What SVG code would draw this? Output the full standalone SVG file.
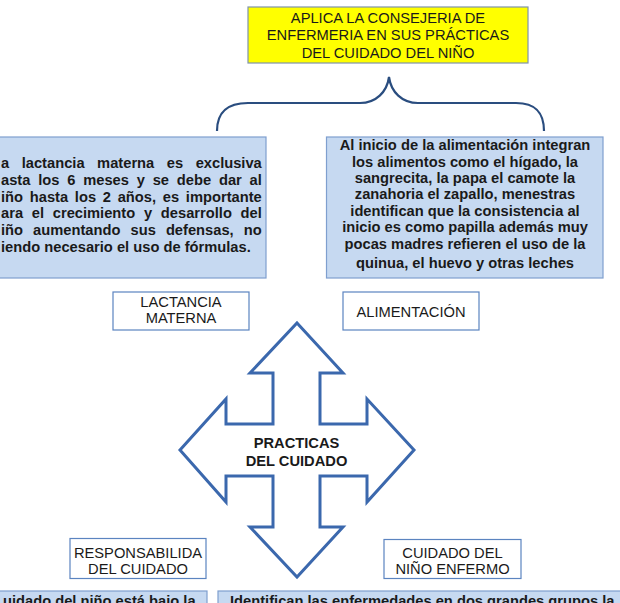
<svg xmlns="http://www.w3.org/2000/svg" width="620" height="603" viewBox="0 0 620 603">
<style>
text{font-family:"Liberation Sans",Arial,sans-serif;font-size:14.7px;fill:#1a1a1a}
.b{font-weight:bold}
.c{text-anchor:middle}
.info{fill:#c6d9f1;stroke:#7f9fcf;stroke-width:1.2}
.lab{fill:#ffffff;stroke:#5b84c0;stroke-width:1.2}
.title{fill:#ffff00;stroke:#7f93aa;stroke-width:1.2}
.brace{fill:none;stroke:#2a4d7f;stroke-width:2.2}
.cross{fill:#ffffff;stroke:#3b68ad;stroke-width:3;stroke-linejoin:miter}
</style>
<rect width="620" height="603" fill="#ffffff"/>
<g id="titulo">
<rect class="title" x="248" y="7" width="280" height="56"/>
<text class="c" x="388" y="22.7">APLICA LA CONSEJERIA DE</text>
<text class="c" x="388" y="40">ENFERMERIA EN SUS PRÁCTICAS</text>
<text class="c" x="388" y="57.5">DEL CUIDADO DEL NIÑO</text>
</g>
<g id="connectors">
<path class="brace" d="M217,131 C217,113 226,103 248,103 L360,103 C376,103 387,92 389,77 C391,92 402,103 418,103 L516,103 C536,103 544,113 544,131"/>
</g>
<g id="texto-lactancia">
<rect class="info" x="-2" y="137" width="268" height="141"/>
<text class="b" x="1" y="168.3" word-spacing="8.45">a lactancia materna es exclusiva</text>
<text class="b" x="1" y="185" word-spacing="3.72">asta los 6 meses y se debe dar al</text>
<text class="b" x="1" y="201.7" word-spacing="2.65">iño hasta los 2 años, es importante</text>
<text class="b" x="1" y="218" word-spacing="4.65">ara el crecimiento y desarrollo del</text>
<text class="b" x="1" y="234.5" word-spacing="6">iño aumentando sus defensas, no</text>
<text class="b" x="1" y="251.5">iendo necesario el uso de fórmulas.</text>
</g>
<g id="texto-alimentacion">
<rect class="info" x="326.5" y="137" width="276.5" height="141"/>
<text class="b c" x="465" y="150.3">Al inicio de la alimentación integran</text>
<text class="b c" x="465" y="166.5">los alimentos como el hígado, la</text>
<text class="b c" x="465" y="183">sangrecita, la papa el camote la</text>
<text class="b c" x="465" y="199.3">zanahoria el zapallo, menestras</text>
<text class="b c" x="465" y="216">identifican que la consistencia al</text>
<text class="b c" x="465" y="232.3">inicio es como papilla además muy</text>
<text class="b c" x="465" y="248.5">pocas madres refieren el uso de la</text>
<text class="b c" x="465" y="268">quinua, el huevo y otras leches</text>
</g>
<g id="lactancia-materna">
<rect class="lab" x="113" y="292" width="136" height="38"/>
<text class="c" x="181" y="306.5">LACTANCIA</text>
<text class="c" x="181" y="323.3">MATERNA</text>
</g>
<g id="alimentacion">
<rect class="lab" x="343" y="292" width="136" height="38"/>
<text class="c" x="411" y="316.5">ALIMENTACIÓN</text>
</g>
<g id="practicas">
<polygon class="cross" points="297,323 343,373 320,373 320,424 367,424 367,399 414,450 367,502 367,476 320,476 320,527 343,527 297,577 250,527 273,527 273,476 226,476 226,502 180,450 226,399 226,424 273,424 273,373 250,373"/>
<text class="b c" x="296.5" y="447.7">PRACTICAS</text>
<text class="b c" x="296.5" y="465.5">DEL CUIDADO</text>
</g>
<g id="responsabilidad">
<rect class="lab" x="70" y="538.5" width="136" height="40"/>
<text class="c" x="138" y="557.5">RESPONSABILIDA</text>
<text class="c" x="138" y="574">DEL CUIDADO</text>
</g>
<g id="nino-enfermo">
<rect class="lab" x="384" y="539.5" width="137" height="39"/>
<text class="c" x="452.5" y="557.5">CUIDADO DEL</text>
<text class="c" x="452.5" y="574">NIÑO ENFERMO</text>
</g>
<g id="texto-responsabilidad">
<rect class="info" x="-2" y="591" width="209" height="20"/>
<text class="b" x="3" y="606">uidado del niño está bajo la</text>
</g>
<g id="texto-enfermo">
<rect class="info" x="218" y="591" width="410" height="20"/>
<text class="b" x="230" y="606">Identifican las enfermedades en dos grandes grupos la</text>
</g>
</svg>
